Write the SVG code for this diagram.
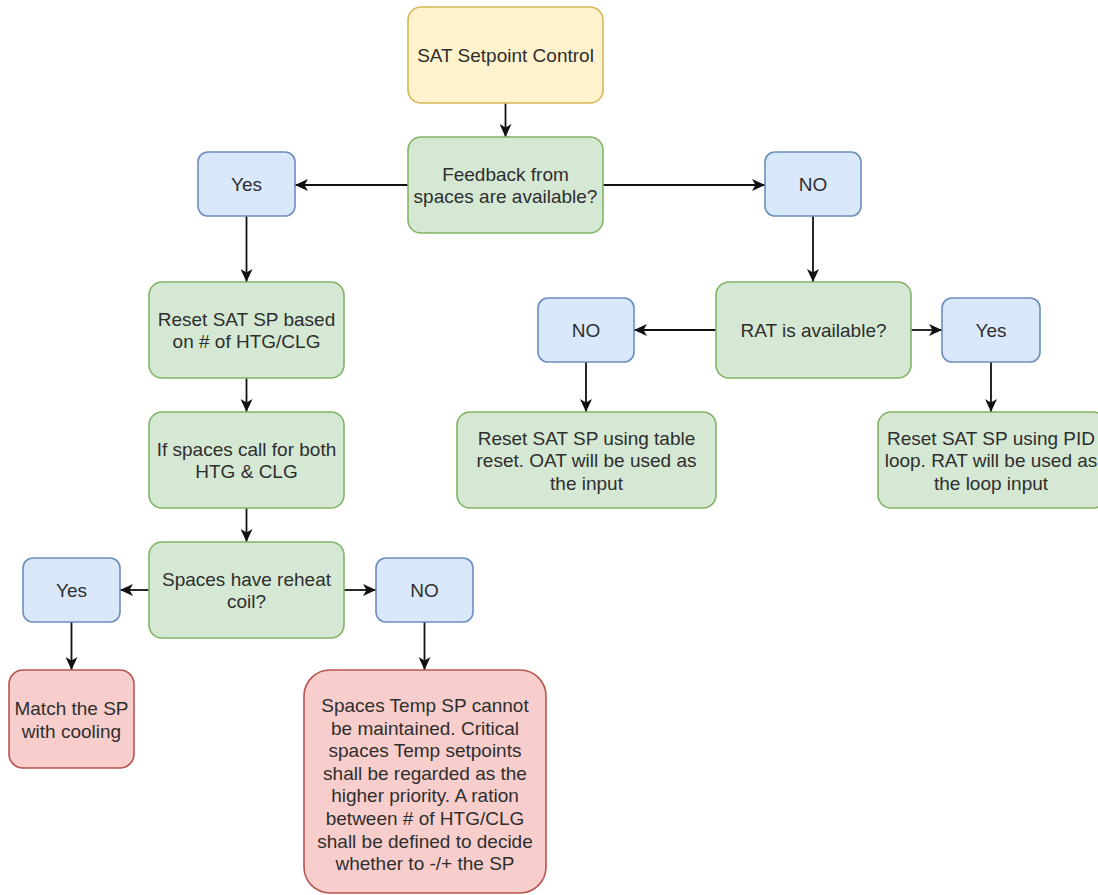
<svg xmlns="http://www.w3.org/2000/svg" width="1098" height="895" viewBox="0 0 1098 895">
  <defs>
    <style>
      .box { stroke-width: 1.6; }
      .yellow { fill: #fff2cc; stroke: #d6b656; }
      .green { fill: #d5e8d4; stroke: #82b366; }
      .blue { fill: #dae8fc; stroke: #6c8ebf; }
      .red { fill: #f8cecc; stroke: #b85450; }
      text { font-family: "Liberation Sans", Arial, sans-serif; font-size: 19px; fill: #2e2e2e; text-anchor: middle; }
      .edge { fill: none; stroke: #111111; stroke-width: 1.8; marker-end: url(#arrow); }
    </style>
    <marker id="arrow" markerUnits="userSpaceOnUse" markerWidth="13" markerHeight="12" refX="13" refY="6" orient="auto">
      <path d="M0,0 L13,6 L0,12 L3.5,6 Z" fill="#111111"/>
    </marker>
  </defs>
  <rect width="1098" height="895" fill="#ffffff"/>

  <!-- connectors -->
  <g id="connectors">
    <path class="edge" d="M505.5,103 L505.5,137"/>
    <path class="edge" d="M408,185 L295,185"/>
    <path class="edge" d="M603,185 L765,185"/>
    <path class="edge" d="M246.5,216 L246.5,282"/>
    <path class="edge" d="M246.5,378 L246.5,412"/>
    <path class="edge" d="M246.5,508 L246.5,542"/>
    <path class="edge" d="M149,590 L120,590"/>
    <path class="edge" d="M344,590 L376,590"/>
    <path class="edge" d="M71.5,622 L71.5,670"/>
    <path class="edge" d="M424.5,622 L424.5,670"/>
    <path class="edge" d="M813,216 L813,282"/>
    <path class="edge" d="M716,330 L634,330"/>
    <path class="edge" d="M911,330 L942,330"/>
    <path class="edge" d="M586,362 L586,412"/>
    <path class="edge" d="M991,362 L991,412"/>
  </g>

  <!-- start -->
  <g id="sat-setpoint-control">
    <rect class="box yellow" x="408" y="7" width="195" height="96" rx="13"/>
    <text x="505.5" y="61.5">SAT Setpoint Control</text>
  </g>

  <g id="feedback-available">
    <rect class="box green" x="408" y="137" width="195" height="96" rx="13"/>
    <text x="505.5" y="180.5">Feedback from</text>
    <text x="505.5" y="203">spaces are available?</text>
  </g>

  <g id="feedback-yes">
    <rect class="box blue" x="198" y="152" width="97" height="64" rx="10"/>
    <text x="246.5" y="190.5">Yes</text>
  </g>

  <g id="feedback-no">
    <rect class="box blue" x="765" y="152" width="96" height="64" rx="10"/>
    <text x="813" y="190.5">NO</text>
  </g>

  <!-- left branch -->
  <g id="reset-by-count">
    <rect class="box green" x="149" y="282" width="195" height="96" rx="13"/>
    <text x="246.5" y="325.5">Reset SAT SP based</text>
    <text x="246.5" y="348">on # of HTG/CLG</text>
  </g>

  <g id="both-htg-clg">
    <rect class="box green" x="149" y="412" width="195" height="96" rx="13"/>
    <text x="246.5" y="455.5">If spaces call for both</text>
    <text x="246.5" y="478">HTG &amp; CLG</text>
  </g>

  <g id="reheat-coil">
    <rect class="box green" x="149" y="542" width="195" height="96" rx="13"/>
    <text x="246.5" y="585.5">Spaces have reheat</text>
    <text x="246.5" y="608">coil?</text>
  </g>

  <g id="reheat-yes">
    <rect class="box blue" x="23" y="558" width="97" height="64" rx="10"/>
    <text x="71.5" y="596.5">Yes</text>
  </g>

  <g id="reheat-no">
    <rect class="box blue" x="376" y="558" width="97" height="64" rx="10"/>
    <text x="424.5" y="596.5">NO</text>
  </g>

  <g id="match-cooling">
    <rect class="box red" x="9" y="670" width="125" height="98" rx="14"/>
    <text x="71.5" y="715">Match the SP</text>
    <text x="71.5" y="738">with cooling</text>
  </g>

  <g id="temp-not-maintained">
    <rect class="box red" x="304" y="670" width="242" height="223" rx="26"/>
    <text x="425" y="712">Spaces Temp SP cannot</text>
    <text x="425" y="734.6">be maintained. Critical</text>
    <text x="425" y="757.2">spaces Temp setpoints</text>
    <text x="425" y="779.8">shall be regarded as the</text>
    <text x="425" y="802.4">higher priority. A ration</text>
    <text x="425" y="825">between # of HTG/CLG</text>
    <text x="425" y="847.6">shall be defined to decide</text>
    <text x="425" y="870.2">whether to -/+ the SP</text>
  </g>

  <!-- right branch -->
  <g id="rat-available">
    <rect class="box green" x="716" y="282" width="195" height="96" rx="13"/>
    <text x="813.5" y="336.5">RAT is available?</text>
  </g>

  <g id="rat-no">
    <rect class="box blue" x="538" y="298" width="96" height="64" rx="10"/>
    <text x="586" y="336.5">NO</text>
  </g>

  <g id="rat-yes">
    <rect class="box blue" x="942" y="298" width="98" height="64" rx="10"/>
    <text x="991" y="336.5">Yes</text>
  </g>

  <g id="table-reset">
    <rect class="box green" x="457" y="412" width="259" height="96" rx="13"/>
    <text x="586.5" y="444.5">Reset SAT SP using table</text>
    <text x="586.5" y="467">reset. OAT will be used as</text>
    <text x="586.5" y="489.5">the input</text>
  </g>

  <g id="pid-reset">
    <rect class="box green" x="878" y="412" width="228" height="96" rx="13"/>
    <text x="991" y="444.5">Reset SAT SP using PID</text>
    <text x="991" y="467">loop. RAT will be used as</text>
    <text x="991" y="489.5">the loop input</text>
  </g>
</svg>
